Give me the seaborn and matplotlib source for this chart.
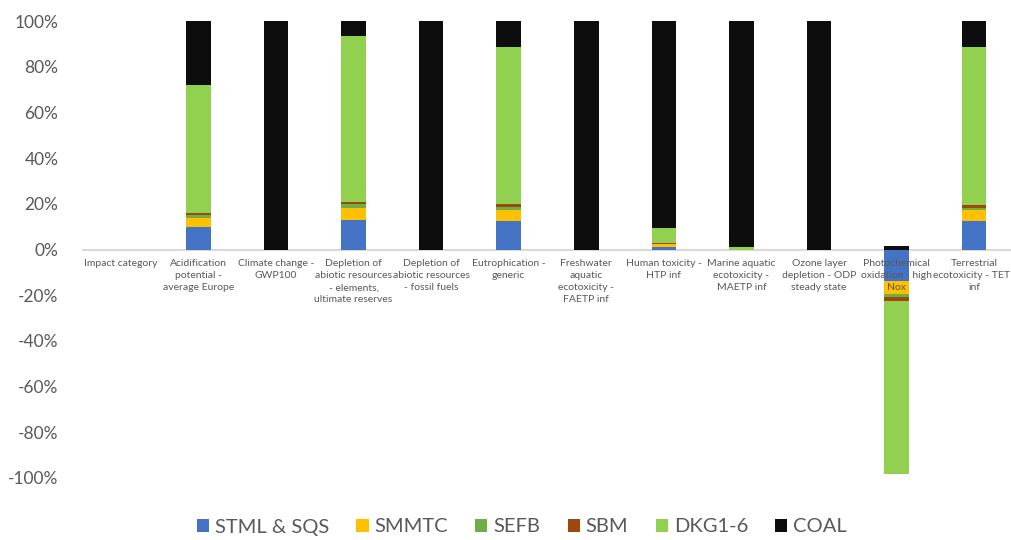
import matplotlib
matplotlib.use("Agg")
import matplotlib.pyplot as plt
from matplotlib.patches import Patch
import seaborn as sns
import pandas as pd

# Impact categories (x axis) and the share of each source in each category, in %
categories = [
    "Impact category",
    "Acidification\npotential -\naverage Europe",
    "Climate change -\nGWP100",
    "Depletion of\nabiotic resources\n- elements,\nultimate reserves",
    "Depletion of\nabiotic resources\n- fossil fuels",
    "Eutrophication -\ngeneric",
    "Freshwater\naquatic\necotoxicity -\nFAETP inf",
    "Human toxicity -\nHTP inf",
    "Marine aquatic\necotoxicity -\nMAETP inf",
    "Ozone layer\ndepletion - ODP\nsteady state",
    "Photochemical\noxidation - high\nNox",
    "Terrestrial\necotoxicity - TETP\ninf",
]

stml_sqs = [0, 9.8, 0, 12.9, 0, 12.4, 0, 1.0, 0, 0, -14.0, 12.3]
smmtc = [0, 4.1, 0, 5.2, 0, 4.8, 0, 1.2, 0, 0, -5.4, 4.8]
sefb = [0, 1.0, 0, 1.6, 0, 1.4, 0, 0.3, 0, 0, -1.5, 1.2]
sbm = [0, 1.0, 0, 1.0, 0, 1.3, 0, 0.2, 0, 0, -1.5, 1.3]
dkg1_6 = [0, 56.0, 0, 72.7, 0, 68.7, 0, 6.8, 1.0, 0, -75.7, 69.0]
coal = [0, 28.1, 100, 6.6, 100, 11.4, 100, 90.5, 99.0, 100, 1.6, 11.4]

series_names = ["STML & SQS", "SMMTC", "SEFB", "SBM", "DKG1-6", "COAL"]
series_values = [stml_sqs, smmtc, sefb, sbm, dkg1_6, coal]
colors = ["#4472C4", "#FFC000", "#70AD47", "#9E480E", "#92D050", "#0D0D0D"]

y_ticks = [-100, -80, -60, -40, -20, 0, 20, 40, 60, 80, 100]

text_color = "#595959"
plt.rcParams["font.family"] = ["Lato", "DejaVu Sans"]

fig = plt.figure(figsize=(10.12, 5.40), dpi=100)
ax = fig.add_axes([82 / 1012, 1 - 478 / 540, (1013 - 82) / 1012, 457 / 540])

# Stack positive and negative contributions separately
pos_base = [0.0] * len(categories)
neg_base = [0.0] * len(categories)
for name, vals, col in zip(series_names, series_values, colors):
    bottoms = []
    for i, v in enumerate(vals):
        if v >= 0:
            bottoms.append(pos_base[i])
            pos_base[i] += v
        else:
            bottoms.append(neg_base[i])
            neg_base[i] += v
    df = pd.DataFrame({"category": categories, "value": vals})
    sns.barplot(data=df, x="category", y="value", order=categories,
                color=col, width=0.316, bottom=bottoms, linewidth=0,
                saturation=1, errorbar=None, ax=ax, zorder=2)

ax.axhline(0, color="#D9D9D9", linewidth=1.5, zorder=1)

ax.set_xlim(-0.5, len(categories) - 0.5)
ax.set_ylim(-100, 100)
ax.set_yticks(y_ticks)
ax.set_yticklabels([f"{t}%" for t in y_ticks])
ax.set_xlabel("")
ax.set_ylabel("")

for s in ax.spines.values():
    s.set_visible(False)

ax.tick_params(axis="y", length=0, pad=17, labelsize=12.5, labelcolor=text_color)

# Category labels hang just below the zero line
ax.set_xticks([])
for i, lab in enumerate(categories):
    ax.text(i, -4.3, lab, ha="center", va="top", multialignment="center",
            fontsize=7.5, color=text_color, linespacing=1.42, zorder=5)

handles = [Patch(facecolor=c, edgecolor="none") for c in colors]
fig.legend(handles, series_names, loc="center", bbox_to_anchor=(522 / 1012, 1 - 527 / 540),
           ncol=6, frameon=False, fontsize=14.5, labelcolor=text_color,
           handlelength=0.6, handleheight=0.6, handletextpad=0.3, columnspacing=1.35)

fig.savefig("out.png", dpi=100)
